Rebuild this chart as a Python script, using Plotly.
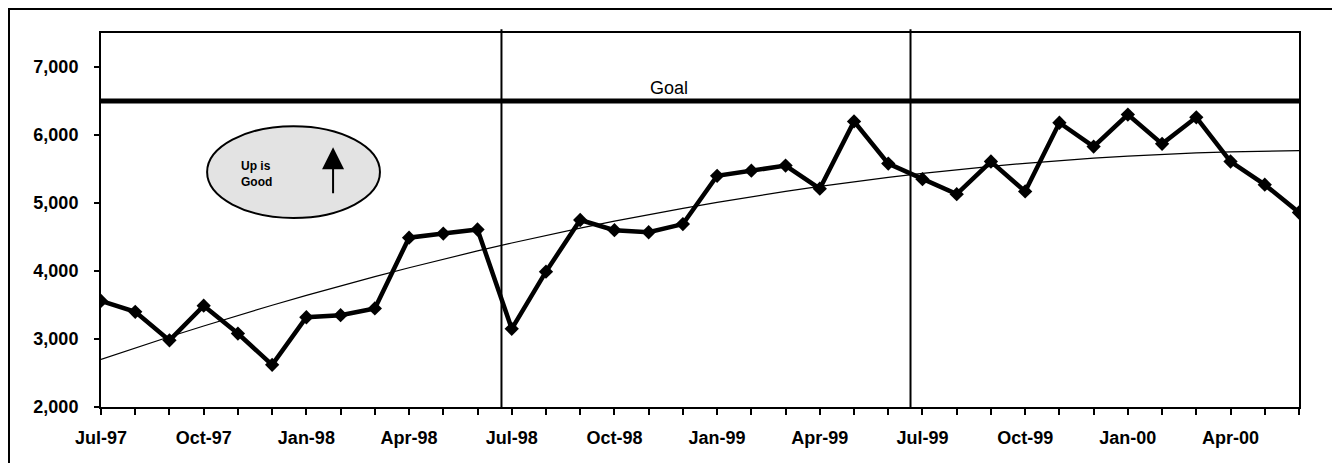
import numpy as np
import plotly.graph_objects as go

# monthly values, Jul-97 .. Jun-00
months = [
    "Jul-97", "Aug-97", "Sep-97", "Oct-97", "Nov-97", "Dec-97",
    "Jan-98", "Feb-98", "Mar-98", "Apr-98", "May-98", "Jun-98",
    "Jul-98", "Aug-98", "Sep-98", "Oct-98", "Nov-98", "Dec-98",
    "Jan-99", "Feb-99", "Mar-99", "Apr-99", "May-99", "Jun-99",
    "Jul-99", "Aug-99", "Sep-99", "Oct-99", "Nov-99", "Dec-99",
    "Jan-00", "Feb-00", "Mar-00", "Apr-00", "May-00", "Jun-00",
]
values = [
    3560, 3400, 2980, 3490, 3080, 2620,
    3320, 3350, 3450, 4490, 4550, 4610,
    3150, 3990, 4750, 4600, 4570, 4690,
    5400, 5475, 5550, 5210, 6200, 5580,
    5350, 5130, 5610, 5170, 6180, 5830,
    6300, 5870, 6260, 5610, 5270, 4860,
]
tick_labels = ["Jul-97", "Oct-97", "Jan-98", "Apr-98", "Jul-98", "Oct-98",
               "Jan-99", "Apr-99", "Jul-99", "Oct-99", "Jan-00", "Apr-00"]
GOAL = 6500
year_breaks = [11.7, 23.65]  # fiscal year dividers

x = np.arange(len(months))
# 2nd order polynomial trendline, as in the original spreadsheet
trend = np.polyval(np.polyfit(x, values, 2), x)

font = "Arial, Liberation Sans, sans-serif"

fig = go.Figure()
fig.add_trace(go.Scatter(
    x=x, y=trend, mode="lines",
    line=dict(color="black", width=1.2), hoverinfo="skip",
))
fig.add_trace(go.Scatter(
    x=x, y=values, mode="lines+markers",
    line=dict(color="black", width=4.5),
    marker=dict(symbol="diamond", size=11, color="black"),
    text=months, hovertemplate="%{text}: %{y:,}<extra></extra>",
))

fig.add_hline(y=GOAL, line=dict(color="black", width=5))
fig.add_annotation(x=16.6, y=GOAL, text="Goal", showarrow=False, yanchor="bottom",
                   yshift=1, font=dict(family=font, size=18, color="black"))

for xb in year_breaks:
    fig.add_shape(type="line", x0=xb, x1=xb, xref="x", yref="paper", y0=0, y1=1.01,
                  line=dict(color="black", width=2))

# "Up is Good" callout
fig.add_shape(type="circle", xref="x", yref="y", x0=3.1, x1=8.15, y0=4780, y1=6130,
              fillcolor="#e3e3e3", line=dict(color="black", width=2))
fig.add_annotation(x=4.55, y=5420, text="<b>Up is<br>Good</b>", showarrow=False,
                   align="left", font=dict(family=font, size=12, color="black"))
fig.add_annotation(x=6.78, y=5820, ax=6.78, ay=5120, axref="x", ayref="y",
                   text="", showarrow=True, arrowhead=2, arrowsize=2.2,
                   arrowwidth=2, arrowcolor="black")

# outer frame (bottom edge runs off the page)
fig.add_shape(type="rect", xref="paper", yref="paper",
              x0=-0.0768, x1=1.0317, y0=-0.19, y1=1.064,
              line=dict(color="black", width=2))

fig.update_xaxes(
    range=[0, len(months) - 1],
    tickmode="array", tickvals=x,
    ticktext=[m if m in tick_labels else "" for m in months],
    ticks="outside", ticklen=6, tickwidth=1.5, tickcolor="black",
    showline=True, linecolor="black", linewidth=2, mirror=True,
    showgrid=False, zeroline=False, ticklabelstandoff=7,
    tickfont=dict(family=font, size=18, color="black", weight="bold"),
)
fig.update_yaxes(
    range=[2000, 7500], tickvals=[2000, 3000, 4000, 5000, 6000, 7000],
    tickformat=",d",
    ticks="outside", ticklen=5, tickwidth=1.5, tickcolor="black",
    showline=True, linecolor="black", linewidth=2, mirror=True,
    showgrid=False, zeroline=False, ticklabelstandoff=12,
    tickfont=dict(family=font, size=18, color="black", weight="bold"),
)
# page body adds an 8px offset, so the figure is 8px smaller than the window
fig.update_layout(
    width=1332, height=455,
    margin=dict(l=93, r=41, t=25, b=56),
    plot_bgcolor="white", paper_bgcolor="white",
    showlegend=False,
)

fig.write_html("out.html")
